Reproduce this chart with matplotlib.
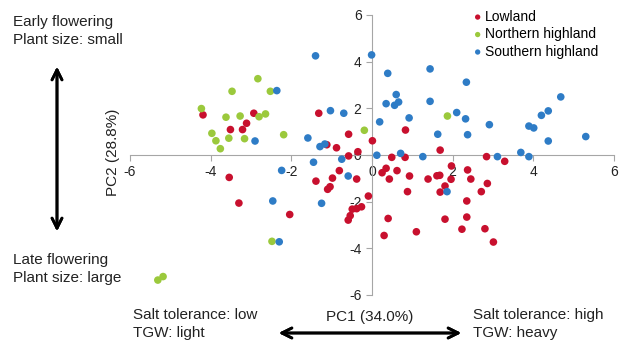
import numpy as np
import matplotlib.pyplot as plt

plt.rcParams['font.family'] = ['Liberation Sans', 'DejaVu Sans']
plt.rcParams['axes.unicode_minus'] = False

# PCA scores (PC1, PC2)
lowland_pc1 = [-4.19, -2.93, -3.51, -3.21, -3.11, -1.32, -0.58, -1.12, -0.88, -0.58,
               -0.35, 0.01, 0.83, 1.69, 0.49, 0.82, 2.84, 3.29, 1.97, 2.37,
               0.35, 0.25, 0.62, 0.43, 0.93, 1.39, 1.61, 1.68, 1.96, 2.45,
               1.81, 0.88, 1.69, 2.86, 2.71, 2.35, -0.09, -0.26, 0.40, 1.81,
               2.35, 1.10, 0.30, 2.23, 2.80, 3.01, -3.54, -3.30, -2.04, -1.39,
               -0.98, -0.81, -0.38, -1.10, -1.04, -0.38, -0.49, -0.54, -0.59]
lowland_pc2 = [1.72, 1.79, 1.09, 1.09, 1.36, 1.79, 0.89, 0.44, 0.31, -0.04,
               0.14, 0.61, 1.07, 0.21, -0.10, -0.10, -0.07, -0.27, -0.47, -0.64,
               -0.57, -0.76, -0.67, -1.03, -0.90, -1.03, -0.89, -0.87, -1.04, -1.03,
               -1.33, -1.57, -1.59, -1.22, -1.57, -1.97, -1.76, -2.22, -2.72, -2.75,
               -2.66, -3.29, -3.45, -3.18, -3.16, -3.73, -0.96, -2.06, -2.55, -1.12,
               -0.99, -0.67, -1.03, -1.47, -1.36, -2.30, -2.32, -2.60, -2.79]

north_pc1 = [-4.23, -2.83, -3.47, -2.52, -3.62, -3.27, -2.80, -2.64, -3.97, -3.87,
             -3.55, -3.76, -3.16, -2.19, -0.19, 1.87, -2.48, -5.18, -5.31]
north_pc2 = [1.99, 3.27, 2.73, 2.73, 1.62, 1.67, 1.64, 1.76, 0.93, 0.61,
             0.72, 0.27, 0.70, 0.87, 1.06, 1.67, -3.70, -5.21, -5.36]

south_pc1 = [-1.40, -0.01, -2.36, -1.03, -0.70, -2.90, -1.59, -1.29, -1.17, -0.75,
             -1.45, 0.39, 1.44, 2.34, 0.60, 0.35, 0.56, 0.66, 1.44, 0.19,
             0.92, 2.10, 2.32, 1.63, 2.37, 2.91, 4.68, 4.37, 4.20, 3.89,
             4.01, 4.37, 5.30, 0.12, 0.71, 1.26, 3.11, 3.69, 3.89, 1.86,
             -2.24, -0.59, -2.46, -1.25, -2.30]
south_pc2 = [4.25, 4.29, 2.76, 1.90, 1.79, 0.60, 0.73, 0.36, 0.47, -0.18,
             -0.31, 3.50, 3.69, 3.12, 2.59, 2.20, 2.13, 2.27, 2.30, 1.42,
             1.59, 1.82, 1.55, 0.89, 0.87, 1.30, 2.49, 1.89, 1.70, 1.24,
             1.16, 0.60, 0.79, -0.01, 0.07, -0.07, -0.07, 0.11, -0.07, -1.57,
             -0.66, -0.90, -1.97, -2.07, -3.72]

ticks = [-6, -4, -2, 0, 2, 4, 6]
txt = '#222222'

fig = plt.figure(figsize=(6.2, 3.42), dpi=100)
ax = fig.add_axes([130 / 620, 1 - 295 / 342, 484 / 620, 280 / 342])

ax.scatter(lowland_pc1, lowland_pc2, s=30, color='#c8102e', edgecolors='none',
           label='Lowland', zorder=3)
ax.scatter(north_pc1, north_pc2, s=30, color='#9bc93c', edgecolors='none',
           label='Northern highland', zorder=3)
ax.scatter(south_pc1, south_pc2, s=30, color='#2e7cc6', edgecolors='none',
           label='Southern highland', zorder=3)

ax.set_xlim(-6, 6)
ax.set_ylim(-6, 6)
ax.set_xticks(ticks)
ax.set_yticks(ticks)
ax.spines['left'].set_position('zero')
ax.spines['bottom'].set_position('zero')
ax.spines['right'].set_visible(False)
ax.spines['top'].set_visible(False)
for s in ['left', 'bottom']:
    ax.spines[s].set_color('#a6a6a6')
ax.tick_params(direction='out', length=4, color='#a6a6a6', labelsize=10,
               labelcolor=txt)

ax.legend(loc='upper left', bbox_to_anchor=(461 / 620, 1.0),
          bbox_transform=fig.transFigure, frameon=False, fontsize=10,
          handletextpad=0.05, labelspacing=0.25, borderaxespad=0.3,
          markerscale=0.7, handlelength=1.0)

fig.text(113 / 620, 1 - 152 / 342, 'PC2 (28.8%)', rotation=90, fontsize=11,
         ha='center', va='center', color=txt)
fig.text(370 / 620, 1 - 317 / 342, 'PC1 (34.0%)', fontsize=11,
         ha='center', va='center', color=txt)

side = dict(fontsize=11, ha='left', va='center', color=txt, linespacing=1.4)
fig.text(13 / 620, 1 - 31 / 342, 'Early flowering\nPlant size: small', **side)
fig.text(13 / 620, 1 - 269 / 342, 'Late flowering\nPlant size: large', **side)
fig.text(133 / 620, 1 - 324 / 342, 'Salt tolerance: low\nTGW: light', **side)
fig.text(473 / 620, 1 - 324 / 342, 'Salt tolerance: high\nTGW: heavy', **side)

arrow = dict(arrowstyle='<->', lw=2, color='black', mutation_scale=18)
fig.add_artist(plt.annotate('', xy=(57 / 620, 1 - 64 / 342), xytext=(57 / 620, 1 - 234 / 342),
                            xycoords='figure fraction', arrowprops=arrow))
fig.add_artist(plt.annotate('', xy=(276 / 620, 1 - 333 / 342), xytext=(464 / 620, 1 - 333 / 342),
                            xycoords='figure fraction', arrowprops=arrow))

fig.savefig('out.png', dpi=100)
